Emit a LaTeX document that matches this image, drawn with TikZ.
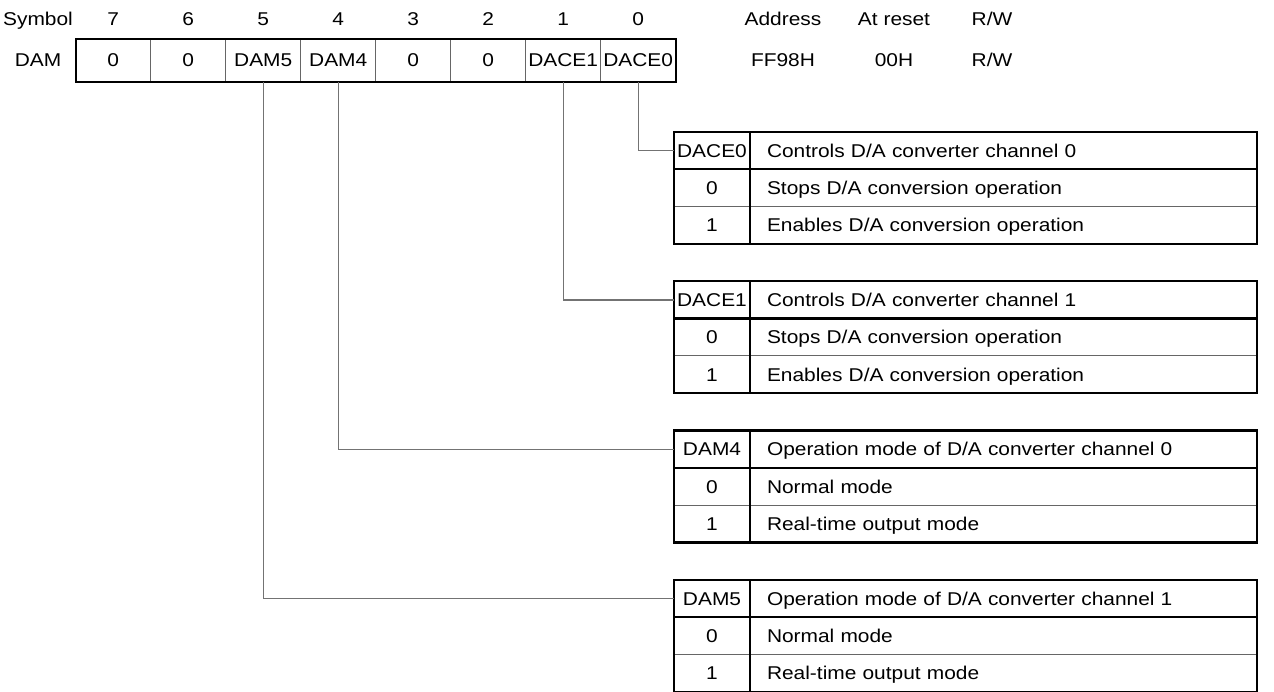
\documentclass[tikz,border=0pt]{standalone}
\usepackage{fontspec}
\setmainfont{Liberation Sans}[FakeStretch=1.13]
\usetikzlibrary{positioning}

\begin{document}
\begin{tikzpicture}[
  x=1pt, y=-1pt,
  font=\fontsize{18.5}{21}\selectfont,
  bitcell/.style={
    draw=black!60, line width=1pt,
    minimum width=75pt, minimum height=43pt,
    inner sep=0pt, outer sep=0pt,
    text height=13pt, text depth=0pt
  },
  keycell/.style={
    draw=black!60, line width=1pt,
    minimum width=76pt, minimum height=37.3pt,
    inner sep=0pt, outer sep=0pt,
    text height=13pt, text depth=0pt
  },
  desccell/.style={
    draw=black!60, line width=1pt,
    minimum width=507pt, minimum height=37.3pt,
    inner sep=0pt, outer sep=0pt,
    text width=473pt, align=left,
    text height=13pt, text depth=0pt
  },
  label/.style={text height=13pt, text depth=0pt, inner sep=0pt},
  frame/.style={line width=2.4pt},
  wire/.style={draw=black!55, line width=1.2pt}
]
\useasboundingbox (0,0) rectangle (1274,692);

% register DAM
\node[bitcell] (b7) at (113.2,60.5) {0};
\node[bitcell, right=0pt of b7] (b6) {0};
\node[bitcell, right=0pt of b6] (b5) {DAM5};
\node[bitcell, right=0pt of b5] (b4) {DAM4};
\node[bitcell, right=0pt of b4] (b3) {0};
\node[bitcell, right=0pt of b3] (b2) {0};
\node[bitcell, right=0pt of b2] (b1) {DACE1};
\node[bitcell, right=0pt of b1] (b0) {DACE0};
\draw[frame] (b7.north west) rectangle (b0.south east);

\node[label] (sym) at (38,19) {Symbol};
\node[label] (reg) at (sym |- b7) {DAM};
\node[label] at (b7 |- sym) {7};
\node[label] at (b6 |- sym) {6};
\node[label] at (b5 |- sym) {5};
\node[label] at (b4 |- sym) {4};
\node[label] at (b3 |- sym) {3};
\node[label] at (b2 |- sym) {2};
\node[label] at (b1 |- sym) {1};
\node[label] at (b0 |- sym) {0};

\node[label] (addr) at (783,19) {Address};
\node[label] (rst) at (894,19) {At reset};
\node[label] (rw) at (992,19) {R/W};
\node[label] (addrv) at (addr |- b7) {FF98H};
\node[label] (rstv) at (rst |- b7) {00H};
\node[label] (rwv) at (rw |- b7) {R/W};

% DACE0
\node[keycell] (ce0) at (712,150.65) {DACE0};
\node[desccell, right=0pt of ce0] (ce0h) {Controls D/A converter channel 0};
\node[keycell, below=0pt of ce0] (ce0r0) {0};
\node[desccell, right=0pt of ce0r0] (ce0r0x) {Stops D/A conversion operation};
\node[keycell, below=0pt of ce0r0] (ce0r1) {1};
\node[desccell, right=0pt of ce0r1] (ce0r1x) {Enables D/A conversion operation};
\draw[frame] (ce0.north west) rectangle (ce0r1x.south east);
\draw[frame] (ce0.north east) -- (ce0r1.south east);
\draw[frame] (ce0.south west) -- (ce0h.south east);

% DACE1
\node[keycell] (ce1) at (712,299.95) {DACE1};
\node[desccell, right=0pt of ce1] (ce1h) {Controls D/A converter channel 1};
\node[keycell, below=0pt of ce1] (ce1r0) {0};
\node[desccell, right=0pt of ce1r0] (ce1r0x) {Stops D/A conversion operation};
\node[keycell, below=0pt of ce1r0] (ce1r1) {1};
\node[desccell, right=0pt of ce1r1] (ce1r1x) {Enables D/A conversion operation};
\draw[frame] (ce1.north west) rectangle (ce1r1x.south east);
\draw[frame] (ce1.north east) -- (ce1r1.south east);
\draw[frame] (ce1.south west) -- (ce1h.south east);

% DAM4
\node[keycell] (dm4) at (712,449.25) {DAM4};
\node[desccell, right=0pt of dm4] (dm4h) {Operation mode of D/A converter channel 0};
\node[keycell, below=0pt of dm4] (dm4r0) {0};
\node[desccell, right=0pt of dm4r0] (dm4r0x) {Normal mode};
\node[keycell, below=0pt of dm4r0] (dm4r1) {1};
\node[desccell, right=0pt of dm4r1] (dm4r1x) {Real-time output mode};
\draw[frame] (dm4.north west) rectangle (dm4r1x.south east);
\draw[frame] (dm4.north east) -- (dm4r1.south east);
\draw[frame] (dm4.south west) -- (dm4h.south east);

% DAM5
\node[keycell] (dm5) at (712,598.55) {DAM5};
\node[desccell, right=0pt of dm5] (dm5h) {Operation mode of D/A converter channel 1};
\node[keycell, below=0pt of dm5] (dm5r0) {0};
\node[desccell, right=0pt of dm5r0] (dm5r0x) {Normal mode};
\node[keycell, below=0pt of dm5r0] (dm5r1) {1};
\node[desccell, right=0pt of dm5r1] (dm5r1x) {Real-time output mode};
\draw[frame] (dm5.north west) rectangle (dm5r1x.south east);
\draw[frame] (dm5.north east) -- (dm5r1.south east);
\draw[frame] (dm5.south west) -- (dm5h.south east);

% bit connectors
\draw[wire] (b0.south) |- (ce0.west);
\draw[wire] (b1.south) |- (ce1.west);
\draw[wire] (b4.south) |- (dm4.west);
\draw[wire] (b5.south) |- (dm5.west);

\end{tikzpicture}
\end{document}
